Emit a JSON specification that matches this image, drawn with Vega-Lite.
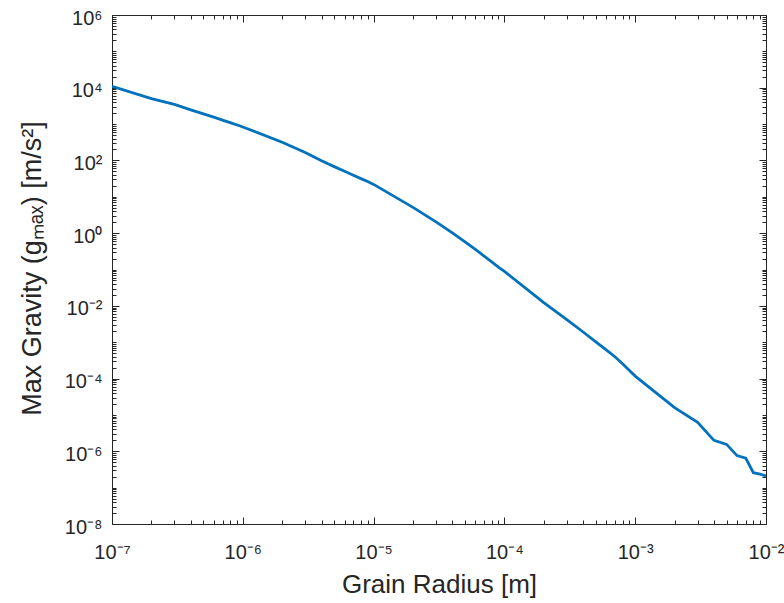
{
  "$schema": "https://vega.github.io/schema/vega-lite/v6.json",
  "width": 654,
  "height": 509,
  "autosize": "none",
  "padding": {"left": 112, "top": 15, "right": 18, "bottom": 79},
  "background": "white",
  "config": {
    "view": {"stroke": null},
    "font": "Liberation Sans",
    "axis": {
      "grid": false,
      "domainColor": "#262626",
      "domainWidth": 1,
      "tickColor": "#262626",
      "tickWidth": 1,
      "labelColor": "#262626",
      "titleColor": "#262626",
      "labelFont": "Liberation Sans",
      "titleFont": "Liberation Sans",
      "labelFontSize": 20,
      "titleFontSize": 26,
      "titleFontWeight": "normal",
      "labelOverlap": false,
      "labelBound": false,
      "labelFlush": false
    }
  },
  "data": {
    "values": [
      {"r": 1e-7, "g": 10965},
      {"r": 2e-7, "g": 5012},
      {"r": 3e-7, "g": 3467},
      {"r": 4e-7, "g": 2455},
      {"r": 5e-7, "g": 1905},
      {"r": 6e-7, "g": 1549},
      {"r": 7e-7, "g": 1288},
      {"r": 8e-7, "g": 1096},
      {"r": 9e-7, "g": 955},
      {"r": 1e-6, "g": 832},
      {"r": 2e-6, "g": 316},
      {"r": 3e-6, "g": 166},
      {"r": 4e-6, "g": 98},
      {"r": 5e-6, "g": 67.6},
      {"r": 6e-6, "g": 50.1},
      {"r": 7e-6, "g": 38.9},
      {"r": 8e-6, "g": 31.6},
      {"r": 9e-6, "g": 26.3},
      {"r": 1e-5, "g": 21.9},
      {"r": 2e-5, "g": 5.13},
      {"r": 3e-5, "g": 2.04},
      {"r": 4e-5, "g": 1.02},
      {"r": 5e-5, "g": 0.575},
      {"r": 6e-5, "g": 0.355},
      {"r": 7e-5, "g": 0.234},
      {"r": 8e-5, "g": 0.162},
      {"r": 9e-5, "g": 0.117},
      {"r": 1e-4, "g": 0.0891},
      {"r": 2e-4, "g": 0.0123},
      {"r": 3e-4, "g": 0.00417},
      {"r": 4e-4, "g": 0.00191},
      {"r": 5e-4, "g": 0.00102},
      {"r": 6e-4, "g": 0.000617},
      {"r": 7e-4, "g": 0.000398},
      {"r": 8e-4, "g": 0.000257},
      {"r": 9e-4, "g": 0.00017},
      {"r": 1e-3, "g": 0.000117},
      {"r": 2e-3, "g": 1.58e-5},
      {"r": 3e-3, "g": 6.3e-6},
      {"r": 4e-3, "g": 2.0e-6},
      {"r": 5e-3, "g": 1.55e-6},
      {"r": 6e-3, "g": 7.6e-7},
      {"r": 7e-3, "g": 6.5e-7},
      {"r": 8e-3, "g": 2.57e-7},
      {"r": 9e-3, "g": 2.34e-7},
      {"r": 1e-2, "g": 2.09e-7}
    ]
  },
  "resolve": {"scale": {"x": "shared", "y": "shared"}, "axis": {"x": "independent", "y": "independent"}},
  "layer": [
    {
      "mark": {"type": "line", "color": "#0072BD", "strokeWidth": 2.8, "clip": true},
      "encoding": {
        "x": {
          "field": "r", "type": "quantitative",
          "scale": {"type": "log", "domain": [1e-7, 0.01], "nice": false},
          "axis": {
            "orient": "bottom",
            "title": "Grain Radius [m]",
            "titleX": 327, "titleY": 68, "titleBaseline": "alphabetic", "titleAnchor": "middle",
            "values": [1e-7,2e-7,3e-7,4e-7,5e-7,6e-7,7e-7,8e-7,9e-7,1e-6,2e-6,3e-6,4e-6,5e-6,6e-6,7e-6,8e-6,9e-6,1e-5,2e-5,3e-5,4e-5,5e-5,6e-5,7e-5,8e-5,9e-5,1e-4,2e-4,3e-4,4e-4,5e-4,6e-4,7e-4,8e-4,9e-4,1e-3,2e-3,3e-3,4e-3,5e-3,6e-3,7e-3,8e-3,9e-3,1e-2],
            "tickSize": {"condition": {"test": "abs(log(datum.value)/LN10 - round(log(datum.value)/LN10)) < 0.001", "value": -7}, "value": -4},
            "labelPadding": 25,
            "labelExpr": "abs(log(datum.value)/LN10 - round(log(datum.value)/LN10)) < 0.001 ? '10' + replace(replace(replace(replace(replace(replace(replace(replace(replace(replace(replace(toString(round(log(datum.value)/LN10)),'-','⁻'),'0','⁰'),'1','¹'),'2','²'),'3','³'),'4','⁴'),'5','⁵'),'6','⁶'),'7','⁷'),'8','⁸'),'9','⁹') : ''"
          }
        },
        "y": {
          "field": "g", "type": "quantitative",
          "scale": {"type": "log", "domain": [1e-8, 1e6], "nice": false},
          "axis": {
            "orient": "left",
            "title": "Max Gravity (gₘₐₓ) [m/s²]",
            "titleX": -72, "titleY": 253, "titleAngle": -90, "titleBaseline": "alphabetic", "titleAnchor": "middle", "titleAlign": "center", "titleFontSize": 27,
            "values": [1e-8,2e-8,3e-8,4e-8,5e-8,6e-8,7e-8,8e-8,9e-8,1e-7,2e-7,3e-7,4e-7,5e-7,6e-7,7e-7,8e-7,9e-7,1e-6,2e-6,3e-6,4e-6,5e-6,6e-6,7e-6,8e-6,9e-6,1e-5,2e-5,3e-5,4e-5,5e-5,6e-5,7e-5,8e-5,9e-5,1e-4,2e-4,3e-4,4e-4,5e-4,6e-4,7e-4,8e-4,9e-4,1e-3,2e-3,3e-3,4e-3,5e-3,6e-3,7e-3,8e-3,9e-3,0.01,0.02,0.03,0.04,0.05,0.06,0.07,0.08,0.09,0.1,0.2,0.3,0.4,0.5,0.6,0.7,0.8,0.9,1,2,3,4,5,6,7,8,9,10,20,30,40,50,60,70,80,90,100,200,300,400,500,600,700,800,900,1000,2000,3000,4000,5000,6000,7000,8000,9000,10000,20000,30000,40000,50000,60000,70000,80000,90000,100000,200000,300000,400000,500000,600000,700000,800000,900000,1000000],
            "tickSize": {"condition": {"test": "abs(log(datum.value)/LN10/2 - round(log(datum.value)/LN10/2)) < 0.001", "value": -7}, "value": -4},
            "labelPadding": 17,
            "labelBaseline": "middle",
            "labelOffset": 3,
            "labelExpr": "abs(log(datum.value)/LN10/2 - round(log(datum.value)/LN10/2)) < 0.001 ? '10' + replace(replace(replace(replace(replace(replace(replace(replace(replace(replace(replace(toString(round(log(datum.value)/LN10)),'-','⁻'),'0','⁰'),'1','¹'),'2','²'),'3','³'),'4','⁴'),'5','⁵'),'6','⁶'),'7','⁷'),'8','⁸'),'9','⁹') : ''"
          }
        }
      }
    },
    {
      "mark": {"type": "line", "opacity": 0},
      "encoding": {
        "x": {
          "field": "r", "type": "quantitative",
          "axis": {
            "orient": "top", "title": null, "labels": false,
            "values": [1e-7,2e-7,3e-7,4e-7,5e-7,6e-7,7e-7,8e-7,9e-7,1e-6,2e-6,3e-6,4e-6,5e-6,6e-6,7e-6,8e-6,9e-6,1e-5,2e-5,3e-5,4e-5,5e-5,6e-5,7e-5,8e-5,9e-5,1e-4,2e-4,3e-4,4e-4,5e-4,6e-4,7e-4,8e-4,9e-4,1e-3,2e-3,3e-3,4e-3,5e-3,6e-3,7e-3,8e-3,9e-3,1e-2],
            "tickSize": {"condition": {"test": "abs(log(datum.value)/LN10 - round(log(datum.value)/LN10)) < 0.001", "value": -7}, "value": -4}
          }
        },
        "y": {
          "field": "g", "type": "quantitative",
          "axis": {
            "orient": "right", "title": null, "labels": false,
            "values": [1e-8,2e-8,3e-8,4e-8,5e-8,6e-8,7e-8,8e-8,9e-8,1e-7,2e-7,3e-7,4e-7,5e-7,6e-7,7e-7,8e-7,9e-7,1e-6,2e-6,3e-6,4e-6,5e-6,6e-6,7e-6,8e-6,9e-6,1e-5,2e-5,3e-5,4e-5,5e-5,6e-5,7e-5,8e-5,9e-5,1e-4,2e-4,3e-4,4e-4,5e-4,6e-4,7e-4,8e-4,9e-4,1e-3,2e-3,3e-3,4e-3,5e-3,6e-3,7e-3,8e-3,9e-3,0.01,0.02,0.03,0.04,0.05,0.06,0.07,0.08,0.09,0.1,0.2,0.3,0.4,0.5,0.6,0.7,0.8,0.9,1,2,3,4,5,6,7,8,9,10,20,30,40,50,60,70,80,90,100,200,300,400,500,600,700,800,900,1000,2000,3000,4000,5000,6000,7000,8000,9000,10000,20000,30000,40000,50000,60000,70000,80000,90000,100000,200000,300000,400000,500000,600000,700000,800000,900000,1000000],
            "tickSize": {"condition": {"test": "abs(log(datum.value)/LN10/2 - round(log(datum.value)/LN10/2)) < 0.001", "value": -7}, "value": -4}
          }
        }
      }
    }
  ]
}
